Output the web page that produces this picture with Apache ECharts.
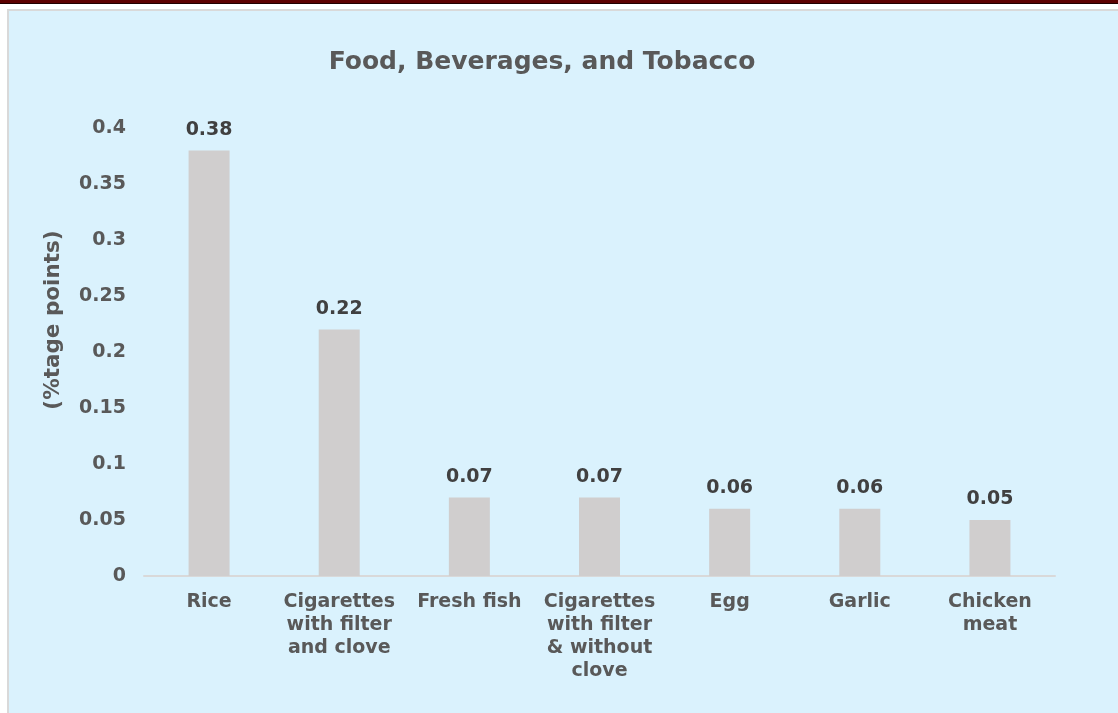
<!DOCTYPE html>
<html>
<head>
<meta charset="utf-8">
<script src="https://cdn.jsdelivr.net/npm/echarts@6/dist/echarts.min.js"></script>
<style>
html,body{margin:0;padding:0;width:1118px;height:713px;overflow:hidden;background:#ffffff;}
#topbar{position:absolute;left:0;top:0;width:1118px;height:3px;background:#5c0000;border-bottom:1px solid #200000;}
#panel{position:absolute;left:7px;top:9px;width:1111px;height:704px;box-sizing:border-box;border-left:2px solid #d9d9d9;border-top:2px solid #d9d9d9;background:#daf2fd;}
#chart{position:absolute;left:0;top:0;width:1118px;height:713px;}
</style>
</head>
<body>
<div id="topbar"></div>
<div id="panel"></div>
<div id="chart"></div>
<script>
const titleText = 'Food, Beverages, and Tobacco';
const yAxisName = '(%tage points)';
const categories = ['Rice', 'Cigarettes\nwith filter\nand clove', 'Fresh fish', 'Cigarettes\nwith filter\n& without\nclove', 'Egg', 'Garlic', 'Chicken\nmeat'];
const values = [0.38, 0.22, 0.07, 0.07, 0.06, 0.06, 0.05];

const FONT = '"DejaVu Sans", Verdana, sans-serif';
const chart = echarts.init(document.getElementById('chart'), null, {renderer: 'canvas'});
chart.setOption({
  backgroundColor: 'transparent',
  animation: false,
  title: {
    text: titleText,
    left: 537,
    top: 45,
    textAlign: 'center',
    textStyle: {fontFamily: FONT, fontWeight: 'bold', fontSize: 25, color: '#595959'}
  },
  grid: {left: 144, right: 63, top: 128, bottom: 137, containLabel: false},
  xAxis: {
    type: 'category',
    data: categories,
    axisLine: {show: true, lineStyle: {color: '#d9d9d9', width: 2}},
    axisTick: {show: false},
    axisLabel: {
      interval: 0,
      margin: 15,
      fontFamily: FONT, fontWeight: 'bold', fontSize: 19, color: '#595959',
      lineHeight: 23
    }
  },
  yAxis: {
    type: 'value',
    min: 0, max: 0.4, interval: 0.05,
    name: yAxisName,
    nameLocation: 'middle',
    nameGap: 80,
    nameRotate: 90,
    nameTextStyle: {fontFamily: FONT, fontWeight: 'bold', fontSize: 21.5, color: '#595959', padding: [0, 0, 0, 64]},
    axisLine: {show: false},
    axisTick: {show: false},
    splitLine: {show: false},
    axisLabel: {margin: 18, fontFamily: FONT, fontWeight: 'bold', fontSize: 19, color: '#595959'}
  },
  series: [{
    type: 'bar',
    data: values,
    barWidth: 41,
    itemStyle: {color: '#d0cece'},
    label: {
      show: true, position: 'top', distance: 11,
      fontFamily: FONT, fontWeight: 'bold', fontSize: 19, color: '#404040'
    }
  }]
});
</script>
</body>
</html>
